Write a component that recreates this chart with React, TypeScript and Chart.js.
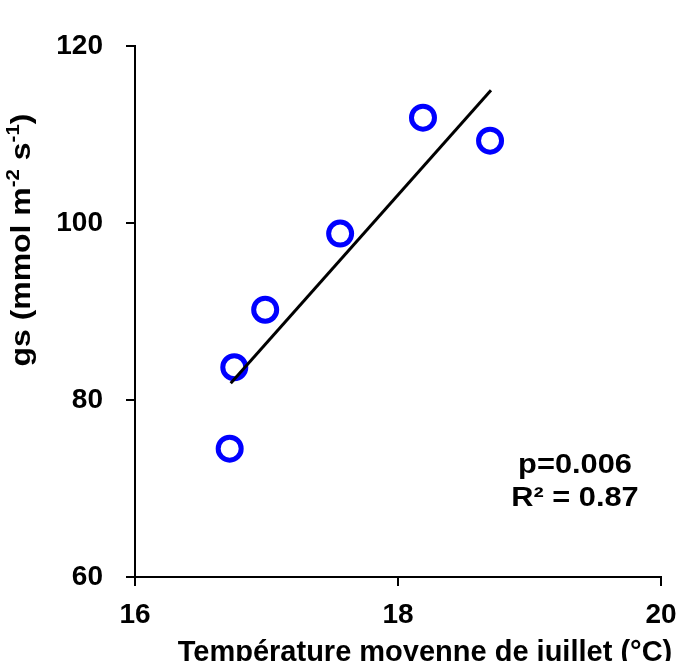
import React, { useEffect, useRef } from "react";
import { Chart, registerables } from "chart.js";

Chart.register(...registerables);

// ---- data ----
const temperature = [16.72, 16.755, 16.99, 17.56, 18.19, 18.7];
const gs = [74.5, 83.7, 90.2, 98.8, 111.9, 109.3];
const trendX = [16.728, 18.707];
const trendY = [81.9, 115.0];
const xTicks = [16, 18, 20];
const yTicks = [60, 80, 100, 120];
const xTitle = "Température moyenne de juillet (°C)";
const yTitleParts = [
  { text: "gs (mmol m", sup: false },
  { text: "-2", sup: true },
  { text: " s", sup: false },
  { text: "-1", sup: true },
  { text: ")", sup: false },
];
const statLines = ["p=0.006", "R² = 0.87"];

const FONT = '"Liberation Sans", Arial, Helvetica, sans-serif';

const textPlugin = {
  id: "customTexts",
  afterDraw(chart: any) {
    const ctx: CanvasRenderingContext2D = chart.ctx;
    ctx.save();
    ctx.fillStyle = "#000";

    // x title (cut at bottom like the reference)
    ctx.font = `bold 29px ${FONT}`;
    ctx.textAlign = "center";
    ctx.textBaseline = "alphabetic";
    ctx.fillText(xTitle, 425, 661);

    // y title, rotated, with superscripts
    const big = `bold 28px ${FONT}`;
    const small = `bold 18px ${FONT}`;
    let total = 0;
    for (const p of yTitleParts) {
      ctx.font = p.sup ? small : big;
      total += ctx.measureText(p.text).width;
    }
    ctx.save();
    ctx.translate(30, 240);
    ctx.rotate(-Math.PI / 2);
    ctx.scale(1.14, 1);
    ctx.textAlign = "left";
    let x = -total / 2;
    for (const p of yTitleParts) {
      ctx.font = p.sup ? small : big;
      ctx.fillText(p.text, x, p.sup ? -11 : 0);
      x += ctx.measureText(p.text).width;
    }
    ctx.restore();

    // statistics annotation
    ctx.font = `bold 27px ${FONT}`;
    ctx.textAlign = "center";
    const baselines = [473, 506];
    statLines.forEach((t, i) => {
      ctx.save();
      ctx.translate(575, baselines[i]);
      ctx.scale(1.14, 1);
      ctx.fillText(t, 0, 0);
      ctx.restore();
    });
    ctx.restore();
  },
};

export default function App() {
  const ref = useRef<HTMLCanvasElement>(null);

  useEffect(() => {
    if (!ref.current) return;
    const chart = new Chart(ref.current, {
      type: "scatter",
      data: {
        datasets: [
          {
            type: "line" as any,
            data: trendX.map((v, i) => ({ x: v, y: trendY[i] })),
            borderColor: "#000",
            borderWidth: 3,
            pointRadius: 0,
            showLine: true,
            fill: false,
            order: 0,
          },
          {
            data: temperature.map((v, i) => ({ x: v, y: gs[i] })),
            borderColor: "#0000FF",
            backgroundColor: "rgba(0,0,0,0)",
            pointRadius: 11.5,
            pointBorderWidth: 5,
            pointHoverRadius: 11.5,
            order: 1,
          },
        ],
      },
      options: {
        responsive: false,
        animation: false,
        layout: { padding: { top: 46, right: 20, bottom: 0, left: 0 } },
        plugins: {
          legend: { display: false },
          tooltip: { enabled: false },
        },
        scales: {
          x: {
            type: "linear",
            min: 16,
            max: 20,
            afterBuildTicks: (s: any) => {
              s.ticks = xTicks.map((v) => ({ value: v }));
            },
            afterFit: (s: any) => {
              s.height = 84;
              s.paddingRight = 0;
              s.paddingLeft = 0;
            },
            grid: {
              display: true,
              drawOnChartArea: false,
              drawTicks: true,
              tickLength: 9,
              color: "#000",
              lineWidth: 2,
            },
            border: { display: true, color: "#000", width: 2 },
            ticks: {
              color: "#000",
              padding: 12,
              font: { family: FONT, size: 28, weight: "bold" },
              maxRotation: 0,
            },
          },
          y: {
            type: "linear",
            min: 60,
            max: 120,
            afterBuildTicks: (s: any) => {
              s.ticks = yTicks.map((v) => ({ value: v }));
            },
            afterFit: (s: any) => {
              s.width = 135;
            },
            grid: {
              display: true,
              drawOnChartArea: false,
              drawTicks: true,
              tickLength: 9,
              color: "#000",
              lineWidth: 2,
            },
            border: { display: true, color: "#000", width: 2 },
            ticks: {
              color: "#000",
              padding: 23,
              font: { family: FONT, size: 28, weight: "bold" },
            },
          },
        },
      },
      plugins: [textPlugin],
    });
    return () => chart.destroy();
  }, []);

  return (
    <div style={{ position: "absolute", left: 0, top: 0, width: 681, height: 661, overflow: "hidden", background: "#fff" }}>
      <canvas ref={ref} width={681} height={661} style={{ display: "block" }} />
    </div>
  );
}
